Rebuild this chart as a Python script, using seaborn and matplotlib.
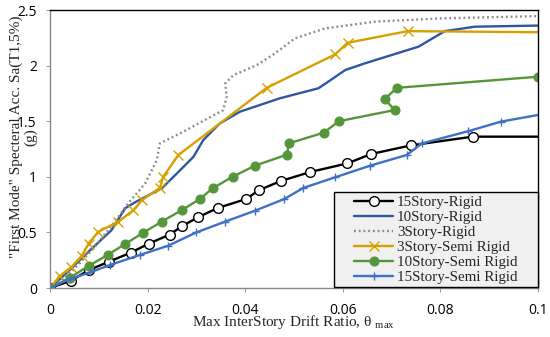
import matplotlib
matplotlib.use("Agg")
import matplotlib.pyplot as plt
from matplotlib.patches import Rectangle
import seaborn as sns

# ---- data ----
x_15r = [0, 0.0043, 0.0079, 0.0121, 0.0165, 0.0203, 0.0245, 0.0271, 0.0304, 0.0344, 0.0402, 0.0428,
         0.0473, 0.0533, 0.0609, 0.0658, 0.074, 0.0866, 0.1]
y_15r = [0, 0.066, 0.16, 0.237, 0.317, 0.40, 0.48, 0.557, 0.638, 0.72, 0.80, 0.88,
         0.962, 1.043, 1.12, 1.205, 1.283, 1.361, 1.361]

x_10r = [0, 0.004, 0.0079, 0.0126, 0.0154, 0.0174, 0.0200, 0.0229, 0.026, 0.0294, 0.0314, 0.0348,
         0.0389, 0.0471, 0.055, 0.057, 0.0605, 0.0645, 0.0755, 0.0809, 0.0871, 0.1]
y_10r = [0, 0.16, 0.327, 0.52, 0.717, 0.77, 0.83, 0.896, 1.03, 1.18, 1.33, 1.48,
         1.585, 1.706, 1.796, 1.855, 1.96, 2.02, 2.17, 2.31, 2.35, 2.36]

x_3r = [0, 0.0045, 0.0092, 0.013, 0.016, 0.0195, 0.0219, 0.0225, 0.0273, 0.0355, 0.0362, 0.0359,
        0.0376, 0.0424, 0.0461, 0.0502, 0.0564, 0.0666, 0.0803, 0.1]
y_3r = [0, 0.15, 0.37, 0.58, 0.76, 0.94, 1.15, 1.30, 1.405, 1.60, 1.72, 1.84,
        1.915, 2.005, 2.11, 2.245, 2.335, 2.395, 2.425, 2.445]

x_3sr = [0, 0.002, 0.0044, 0.0065, 0.0079, 0.0099, 0.014, 0.0171, 0.0188, 0.0225, 0.0232, 0.0263,
         0.0444, 0.0584, 0.061, 0.0733, 0.1]
y_3sr = [0, 0.108, 0.19, 0.288, 0.40, 0.506, 0.596, 0.70, 0.79, 0.90, 1.00, 1.196,
         1.80, 2.10, 2.205, 2.31, 2.30]

x_10sr = [0, 0.0041, 0.0079, 0.0118, 0.0154, 0.0191, 0.0229, 0.027, 0.0307, 0.0333, 0.0374, 0.042,
          0.0486, 0.0489, 0.0561, 0.0592, 0.0706, 0.0686, 0.0711, 0.1]
y_10sr = [0, 0.093, 0.198, 0.297, 0.396, 0.497, 0.597, 0.70, 0.80, 0.896, 1.00, 1.10,
          1.20, 1.30, 1.397, 1.50, 1.60, 1.70, 1.80, 1.90]

x_15sr = [0, 0.004, 0.0082, 0.0123, 0.0184, 0.0242, 0.030, 0.0359, 0.042, 0.048, 0.0519, 0.0584,
          0.0656, 0.0731, 0.0762, 0.0857, 0.0924, 0.1]
y_15sr = [0, 0.08, 0.14, 0.207, 0.297, 0.38, 0.50, 0.597, 0.695, 0.80, 0.90, 0.995,
          1.10, 1.196, 1.30, 1.41, 1.496, 1.556]

x_ticks = [0, 0.02, 0.04, 0.06, 0.08, 0.1]
x_tick_labels = ["0", "0.02", "0.04", "0.06", "0.08", "0.1"]
y_ticks = [0, 0.5, 1, 1.5, 2, 2.5]
y_tick_labels = ["0", "0.5", "1", "1.5", "2", "2.5"]

sns.set_style("ticks")
plt.rcParams["font.family"] = ["Liberation Serif", "DejaVu Serif"]
plt.rcParams["mathtext.fontset"] = "custom"
plt.rcParams["mathtext.rm"] = "Liberation Serif"

W, H = 550, 337
fig = plt.figure(figsize=(5.5, 3.37), dpi=100)
L, R, T, B = 50, 538, 10, 288
ax = fig.add_axes([L / W, 1 - B / H, (R - L) / W, (B - T) / H])

lw = 1.7
sns.lineplot(x=x_15r, y=y_15r, ax=ax, sort=False, estimator=None, color="black", lw=lw,
             marker="o", markersize=7, markerfacecolor="white", markeredgecolor="black",
             markeredgewidth=1.0, markevery=list(range(len(x_15r) - 1)), label="15Story-Rigid")
sns.lineplot(x=x_10r, y=y_10r, ax=ax, sort=False, estimator=None, color="#2F56A0", lw=lw,
             label="10Story-Rigid")
sns.lineplot(x=x_3r, y=y_3r, ax=ax, sort=False, estimator=None, color="#8A8A8A", lw=1.7,
             linestyle=(0, (0.8, 1.2)), label="3Story-Rigid")
sns.lineplot(x=x_3sr, y=y_3sr, ax=ax, sort=False, estimator=None, color="#D6A100", lw=lw,
             marker="x", markersize=7, markeredgewidth=1.0, markeredgecolor="#D6A100",
             markevery=list(range(1, len(x_3sr) - 1)), label="3Story-Semi Rigid")
sns.lineplot(x=x_10sr, y=y_10sr, ax=ax, sort=False, estimator=None, color="#55963A", lw=lw,
             marker="o", markersize=6.5, markeredgecolor="#55963A", markerfacecolor="#55963A",
             label="10Story-Semi Rigid")
sns.lineplot(x=x_15sr, y=y_15sr, ax=ax, sort=False, estimator=None, color="#3E70C6", lw=lw,
             marker="+", markersize=6, markeredgewidth=1.0, markeredgecolor="#3E70C6",
             markevery=list(range(1, len(x_15sr) - 1)), label="15Story-Semi Rigid")

ax.set_xlim(0, 0.1)
ax.set_ylim(0, 2.5)
ax.set_xticks(x_ticks)
ax.set_xticklabels(x_tick_labels, family="Open Sans", fontsize=10)
ax.set_yticks(y_ticks)
ax.set_yticklabels(y_tick_labels, family="Open Sans", fontsize=10)
ax.tick_params(direction="out", length=3, width=0.6, colors="#888888", labelcolor="black")
ax.tick_params(axis="x", pad=8)
ax.tick_params(axis="y", pad=6.5)
for s in ax.spines.values():
    s.set_visible(True)
    s.set_color("black")
    s.set_linewidth(1.0)
ax.spines["left"].set_color("#888888")
ax.spines["bottom"].set_color("#888888")

ax.set_xlabel(r"Max InterStory Drift Ratio, θ $_{\mathrm{max}}$", fontsize=11)
ax.xaxis.set_label_coords(0.5, -(322 - B) / (B - T))
ax.xaxis.label.set_va("center")
ax.set_ylabel('"First Mode" Specteral Acc. Sa(T1,5%)\n(g)', fontsize=11, linespacing=1.05)
ax.yaxis.set_label_coords((23.5 - L) / (R - L), (B - 137) / (B - T))
ax.yaxis.label.set_va("center")

# legend box (Excel style, wide padding)
bx0, bx1, by0, by1 = 334, 538, 192, 287
ax.add_patch(Rectangle(((bx0 - L) / (R - L), (B - by1) / (B - T)),
                       (bx1 - bx0) / (R - L), (by1 - by0) / (B - T),
                       transform=ax.transAxes, facecolor="#F0F0F0", edgecolor="black",
                       lw=1.0, zorder=4.5, clip_on=False))
leg = ax.legend(loc="center", bbox_to_anchor=((436 - L) / (R - L), (B - 239.5) / (B - T)),
                frameon=False, fontsize=10.8, handlelength=2.6, handletextpad=0.25,
                labelspacing=0.1, borderpad=0.0)
leg.set_zorder(5)

fig.savefig("out.png", dpi=100)
